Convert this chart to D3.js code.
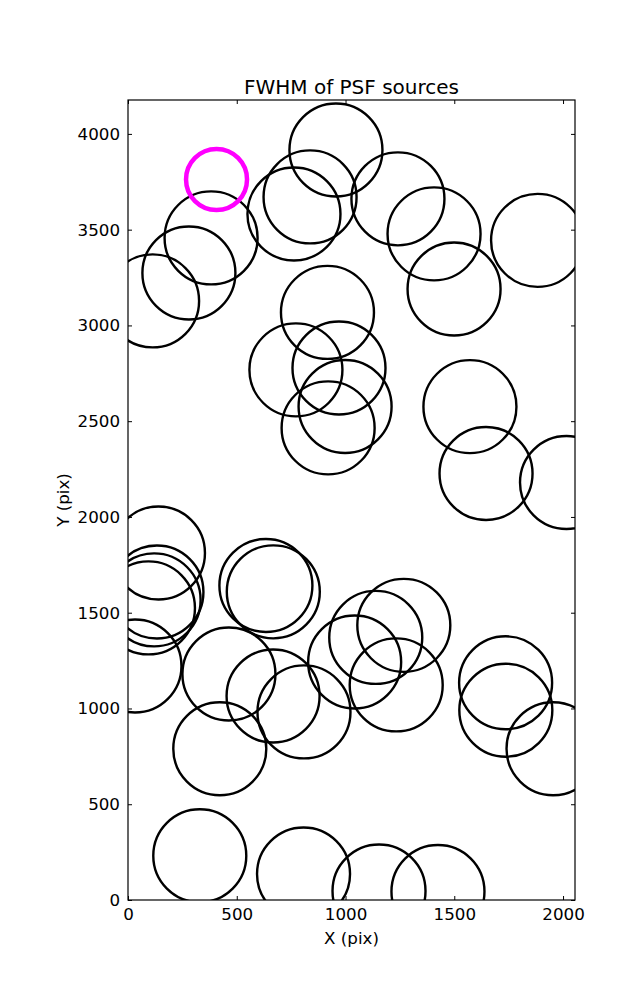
<!DOCTYPE html>
<html>
<head>
<meta charset="utf-8">
<script src="https://cdn.jsdelivr.net/npm/d3@7"></script>
<style>
  html, body { margin: 0; padding: 0; background: #fff; }
  svg { display: block; }
  text { font-family: "DejaVu Sans", sans-serif; fill: #000; }
</style>
</head>
<body>
<div id="chart"></div>
<script>
// PSF source positions (pix)
const sourceX = [956, 837, 763, 1241, 1407, 1883, 1499, 382, 280, 113,
  917, 772, 970, 998, 920, 1572, 1646, 2016,
  140, 133, 120, 94, 32, 464, 634, 668, 667, 809, 422,
  1042, 1139, 1268, 1233, 1736, 1737, 1954,
  330, 807, 1154, 1425];
const sourceY = [3916, 3671, 3582, 3661, 3478, 3444, 3190, 3457, 3274, 3128,
  3068, 2768, 2778, 2577, 2465, 2576, 2227, 2180,
  1812, 1608, 1567, 1525, 1222, 1180, 1642, 1609, 1065, 982, 790,
  1243, 1371, 1434, 1123, 1134, 991, 790,
  231, 136, 47, 44];
// highlighted source
const highlightX = [407];
const highlightY = [3762];

const xTicks = [0, 500, 1000, 1500, 2000];
const yTicks = [0, 500, 1000, 1500, 2000, 2500, 3000, 3500, 4000];
const xDomain = [0, 2055];
const yDomain = [0, 4177];

(function () {
const W = 637, H = 1000;
const mL = 128, mR = 575, mT = 100, mB = 900;

const svg = d3.select("#chart").append("svg")
  .attr("width", W).attr("height", H);

const x = d3.scaleLinear().domain(xDomain).range([mL, mR]);
const y = d3.scaleLinear().domain(yDomain).range([mB, mT]);

svg.append("defs").append("clipPath").attr("id", "clip")
  .append("rect").attr("x", mL).attr("y", mT)
  .attr("width", mR - mL).attr("height", mB - mT);

const g = svg.append("g").attr("clip-path", "url(#clip)");

const pts = sourceX.map((d, i) => ({x: d, y: sourceY[i]}));
g.selectAll("circle.src").data(pts).enter().append("circle")
  .attr("class", "src")
  .attr("cx", d => x(d.x)).attr("cy", d => y(d.y))
  .attr("r", 46.5)
  .attr("fill", "none").attr("stroke", "#000").attr("stroke-width", 2.4);

const hp = highlightX.map((d, i) => ({x: d, y: highlightY[i]}));
g.selectAll("circle.hl").data(hp).enter().append("circle")
  .attr("class", "hl")
  .attr("cx", d => x(d.x)).attr("cy", d => y(d.y))
  .attr("r", 30.5)
  .attr("fill", "none").attr("stroke", "#ff00ff").attr("stroke-width", 4.5);

const fs = 16.7;
const xb = svg.append("g").attr("transform", `translate(0,${mB})`)
  .call(d3.axisBottom(x).tickValues(xTicks).tickSizeInner(-4).tickSizeOuter(0).tickPadding(8).tickFormat(d3.format("d")));
const xt = svg.append("g").attr("transform", `translate(0,${mT})`)
  .call(d3.axisTop(x).tickValues(xTicks).tickSizeInner(-4).tickSizeOuter(0).tickFormat(""));
const yl = svg.append("g").attr("transform", `translate(${mL},0)`)
  .call(d3.axisLeft(y).tickValues(yTicks).tickSizeInner(-4).tickSizeOuter(0).tickPadding(8).tickFormat(d3.format("d")));
const yr = svg.append("g").attr("transform", `translate(${mR},0)`)
  .call(d3.axisRight(y).tickValues(yTicks).tickSizeInner(-4).tickSizeOuter(0).tickFormat(""));
[xb, xt, yl, yr].forEach(a => {
  a.select(".domain").remove();
  a.selectAll("line").attr("stroke", "#000").attr("stroke-width", 1);
  a.selectAll("text").style("font-family", '"DejaVu Sans", sans-serif').style("font-size", fs + "px").attr("fill", "#000");
});

svg.append("rect").attr("x", mL).attr("y", mT)
  .attr("width", mR - mL).attr("height", mB - mT)
  .attr("fill", "none").attr("stroke", "#000").attr("stroke-width", 1.2);

svg.append("text").attr("x", (mL + mR) / 2).attr("y", 94)
  .attr("text-anchor", "middle").style("font-size", "20px")
  .text("FWHM of PSF sources");
svg.append("text").attr("x", (mL + mR) / 2).attr("y", 944)
  .attr("text-anchor", "middle").style("font-size", fs + "px")
  .text("X (pix)");
svg.append("text").attr("transform", `translate(69,${(mT + mB) / 2}) rotate(-90)`)
  .attr("text-anchor", "middle").style("font-size", fs + "px")
  .text("Y (pix)");
})();
</script>
</body>
</html>
